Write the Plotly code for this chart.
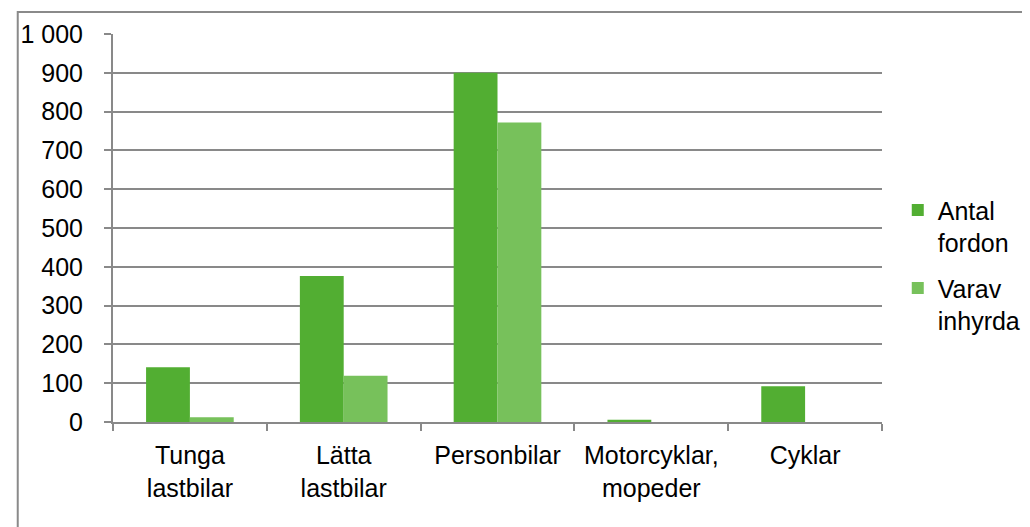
import plotly.graph_objects as go

# ---------- data ----------
categories = ["Tunga<br>lastbilar", "Lätta<br>lastbilar", "Personbilar",
              "Motorcyklar,<br>mopeder", "Cyklar"]
antal_fordon = [141, 376, 900, 6, 92]
varav_inhyrda = [12, 119, 772, 0, 0]
y_ticks = [0, 100, 200, 300, 400, 500, 600, 700, 800, 900, 1000]

GRID = "#898989"
FONT = dict(family="Liberation Sans, Arial, sans-serif", size=25, color="#000000")

fig = go.Figure()
fig.add_trace(go.Bar(x=categories, y=antal_fordon, name="Antal<br>fordon",
                     marker=dict(color="#52AE32", line=dict(width=0)),
                     legendgroup="a"))
fig.add_trace(go.Bar(x=categories, y=varav_inhyrda, name="Varav<br>inhyrda",
                     marker=dict(color="#77C15B", line=dict(width=0)),
                     legendgroup="b"))

# page body adds an 8px offset, margins are shifted to compensate
fig.update_layout(
    width=1030, height=527,
    margin=dict(l=97, r=154, t=24, b=113),
    paper_bgcolor="white", plot_bgcolor="white",
    font=FONT,
    separators=", ",
    barmode="group", bargap=0.43, bargroupgap=0,
    showlegend=True,
    legend=dict(x=1.0205, xanchor="left", y=0.605, yanchor="top",
                traceorder="grouped", tracegroupgap=10,
                itemwidth=30, font=FONT, valign="top"),
)

fig.update_xaxes(
    type="category", showline=True, linecolor=GRID, linewidth=2,
    ticks="outside", tickson="boundaries", ticklen=7, tickcolor=GRID, tickwidth=1.5,
    showgrid=False, tickfont=FONT, ticklabelstandoff=10,
)
fig.update_yaxes(
    range=[0, 1000], tickvals=y_ticks, tickformat=",d",
    showline=True, linecolor=GRID, linewidth=2,
    ticks="outside", ticklen=7, tickcolor=GRID, tickwidth=1.5,
    showgrid=True, gridcolor=GRID, gridwidth=1.5, zeroline=False,
    ticklabelstandoff=16, tickfont=FONT,
)

# outer chart border (only top and left edges fall inside the window)
fig.add_shape(type="rect", xref="paper", yref="paper",
              x0=(8.5 - 105) / 779, x1=(1040 - 105) / 779,
              y0=(422 - 540) / 390, y1=(422 - 10) / 390,
              line=dict(color="#8a8a8a", width=2), fillcolor="rgba(0,0,0,0)",
              layer="below")

fig.write_html("out.html")
